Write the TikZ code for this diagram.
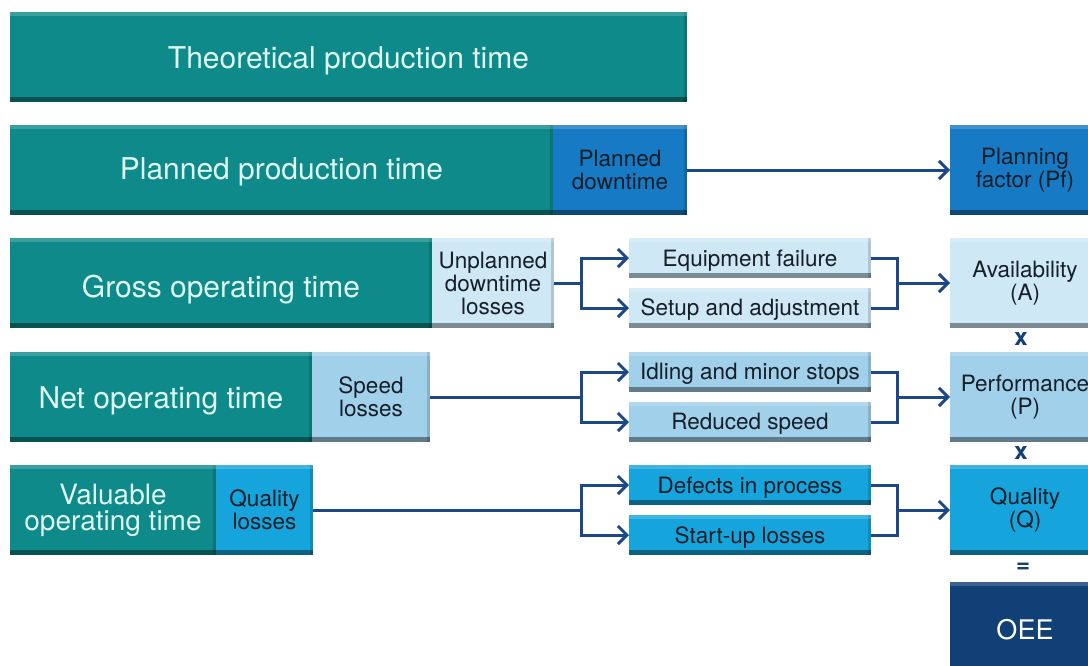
\documentclass[tikz,border=0pt]{standalone}
\usepackage{fontspec}
\setmainfont{TeX Gyre Heros}
\usetikzlibrary{arrows.meta}
\definecolor{tealc}{RGB}{14,138,138}
\definecolor{tealtext}{RGB}{222,246,240}
\definecolor{blueA}{RGB}{22,122,196}
\definecolor{lightA}{RGB}{206,232,246}
\definecolor{midA}{RGB}{160,208,234}
\definecolor{brightA}{RGB}{22,164,220}
\definecolor{navy}{RGB}{16,64,118}
\definecolor{linec}{RGB}{28,72,136}
\definecolor{darktext}{RGB}{22,30,40}
\newcommand{\lowered}[2]{\raisebox{-#1}[\height][\depth]{#2}}
\tikzset{
  bar/.style={draw=none, inner sep=0pt, outer sep=0pt, anchor=north west, align=center,
    path picture={
      \fill[black,opacity=0.4] ([yshift=5pt]path picture bounding box.south west) rectangle (path picture bounding box.south east);
      \fill[black,opacity=0.15] ([xshift=-3pt]path picture bounding box.north east) rectangle (path picture bounding box.south east);
      \fill[white,opacity=0.18] ([yshift=-4pt]path picture bounding box.north west) rectangle (path picture bounding box.north east);
    }},
  bigbar/.style={bar, fill=tealc, text=tealtext, font=\fontsize{30}{23}\selectfont, minimum height=90pt},
  lossbox/.style={bar, text=darktext, font=\fontsize{22.5}{23}\selectfont, minimum height=90pt},
  causebox/.style={bar, text=darktext, font=\fontsize{22.5}{23}\selectfont, minimum width=242pt, minimum height=40pt},
  factorbox/.style={bar, text=darktext, font=\fontsize{22.5}{23}\selectfont, minimum width=150pt, minimum height=90pt},
  ln/.style={draw=linec, line width=3pt},
  arr/.style={ln, -{Straight Barb[length=9pt,width=18pt,line width=3pt]}},
  opsign/.style={text=navy, font=\fontsize{24}{24}\selectfont\bfseries}
}
\begin{document}
\begin{tikzpicture}[x=1pt,y=-1pt]
\useasboundingbox (0,0) rectangle (1088,665);
\fill[white] (0,0) rectangle (1088,665);
% row 1
\node[bigbar, minimum width=677pt] (tpt) at (10,12) {\lowered{4pt}{Theoretical production time}};
% row 2
\node[bigbar, minimum width=543pt] (ppt) at (10,125) {\lowered{2pt}{Planned production time}};
\node[lossbox, fill=blueA, minimum width=134pt] (pd) at (553,125) {Planned\\downtime};
\node[factorbox, fill=blueA] (pf) at (950,125) {Planning\\factor (Pf)};
% row 3
\node[bigbar, minimum width=422pt] (got) at (10,238) {\lowered{7pt}{Gross operating time}};
\node[lossbox, fill=lightA, minimum width=122pt] (ud) at (432,238) {Unplanned\\downtime\\losses};
\node[causebox, fill=lightA] (ef) at (629,238) {\lowered{3pt}{Equipment failure}};
\node[causebox, fill=lightA] (sa) at (629,288) {\lowered{2pt}{Setup and adjustment}};
\node[factorbox, fill=lightA] (av) at (950,238) {Availability\\(A)};
% row 4
\node[bigbar, minimum width=302pt] (nt) at (10,352) {\lowered{4pt}{Net operating time}};
\node[lossbox, fill=midA, minimum width=118pt] (sl) at (312,352) {Speed\\losses};
\node[causebox, fill=midA] (im) at (629,352) {\lowered{2pt}{Idling and minor stops}};
\node[causebox, fill=midA] (rs) at (629,402) {\lowered{2pt}{Reduced speed}};
\node[factorbox, fill=midA] (pe) at (950,352) {Performance\\(P)};
% row 5
\node[bigbar, minimum width=206pt, font=\fontsize{28}{26}\selectfont] (vot) at (10,465) {Valuable\\operating time};
\node[lossbox, fill=brightA, minimum width=97pt] (ql) at (216,465) {Quality\\losses};
\node[causebox, fill=brightA] (dp) at (629,465) {\lowered{3pt}{Defects in process}};
\node[causebox, fill=brightA] (su) at (629,515) {\lowered{3pt}{Start-up losses}};
\node[factorbox, fill=brightA] (qu) at (950,465) {Quality\\(Q)};
% OEE
\node[factorbox, fill=navy, text=white, font=\fontsize{27}{27}\selectfont, minimum height=95pt] (oee) at (950,582) {OEE};
% operators
\node[opsign] (x1) at (1021,339) {x};
\node[opsign] (x2) at (1021,453) {x};
\node[opsign] (eq) at (1023,568) {=};
% branch points
\coordinate (b1) at (581,283);
\coordinate (b2) at (581,397);
\coordinate (b3) at (581,510);
\coordinate (m1) at (897,283);
\coordinate (m2) at (897,397);
\coordinate (m3) at (897,510);
% connectors
\draw[arr] (pd.east) -- (pf.west);
\draw[ln] (ud.east) -- (b1);
\draw[arr] (b1) |- (ef.west);
\draw[arr] (b1) |- (sa.west);
\draw[ln] (ef.east) -| (m1) |- (sa.east);
\draw[arr] (m1) -- (av.west);
\draw[ln] (sl.east) -- (b2);
\draw[arr] (b2) |- (im.west);
\draw[arr] (b2) |- (rs.west);
\draw[ln] (im.east) -| (m2) |- (rs.east);
\draw[arr] (m2) -- (pe.west);
\draw[ln] (ql.east) -- (b3);
\draw[arr] (b3) |- (dp.west);
\draw[arr] (b3) |- (su.west);
\draw[ln] (dp.east) -| (m3) |- (su.east);
\draw[arr] (m3) -- (qu.west);
\end{tikzpicture}
\end{document}
